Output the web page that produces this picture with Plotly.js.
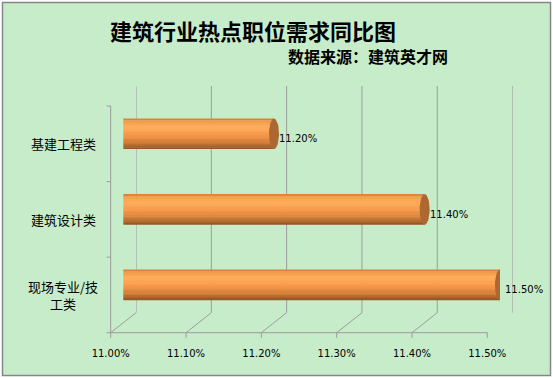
<!DOCTYPE html>
<html>
<head>
<meta charset="utf-8">
<script src="https://cdn.plot.ly/plotly-3.0.1.min.js"></script>
<style>
html,body{margin:0;padding:0;background:#fff;}
#chart{width:553px;height:378px;}
</style>
</head>
<body>
<div id="chart"></div>
<script>
// ---- data ----
const categories = ['基建工程类', '建筑设计类', '现场专业/技工类'];
const categoryLabels = ['基建工程类', '建筑设计类', '现场专业/技<br>工类'];
const values = [11.20, 11.40, 11.50];
const tickValues = [11.00, 11.10, 11.20, 11.30, 11.40, 11.50];
const tickLabels = ['11.00%', '11.10%', '11.20%', '11.30%', '11.40%', '11.50%'];
const axisMin = 11.00, axisMax = 11.50;
const titleText = '建筑行业热点职位需求同比图';
const subtitleText = '数据来源：建筑英才网';

// ---- geometry / style ----
const W = 553, H = 378;
const FL = 110.7, FR = 487.3, FT = 106, FB = 332.7; // front plane (px)
const DX = 25.3, DY = 20;                            // depth offset (px)
const CAP_RX = 5;                                    // cap ellipse half width (px)
const BAR_HALF_PX = 15.3;                            // half bar thickness (px)
const fx = p => p / W;
const fy = p => 1 - p / H;

const nCat = categories.length;
const catIdx = categories.map((c, i) => i);
const pxPerX = (FR - FL) / (axisMax - axisMin);
const pxPerY = (FB - FT) / nCat;
const EX = CAP_RX / pxPerX;
const BH = BAR_HALF_PX / pxPerY;
const xPx = v => FL + (v - axisMin) * pxPerX;
const bandEdgesPx = [FT].concat(catIdx.map(i => FT + (i + 1) * pxPerY));

const gridColor = '#9c9c9c';
const cjk = 'Noto Sans CJK SC';
const gl = () => ({color: gridColor, width: 1});
const noLine = () => ({width: 0, color: 'rgba(0,0,0,0)'});

// cylinder shading (top -> bottom)
const shade = [[0, '#c8772f'], [0.07, '#f09a4c'], [0.28, '#ffad5b'],
               [0.55, '#f79646'], [0.8, '#cf7a35'], [1, '#8a5222']];
const hex2rgb = h => [1, 3, 5].map(k => parseInt(h.substr(k, 2), 16));
function shadeAt(f) {
  for (let k = 1; k < shade.length; k++) {
    if (f <= shade[k][0]) {
      const a = shade[k - 1], b = shade[k];
      const t = (f - a[0]) / (b[0] - a[0]);
      const ca = hex2rgb(a[1]), cb = hex2rgb(b[1]);
      const c = ca.map((q, j) => Math.round(q + (cb[j] - q) * t));
      return 'rgb(' + c.join(',') + ')';
    }
  }
  return shade[shade.length - 1][1];
}

const traces = [];
traces.push({x: [axisMin], y: [0], mode: 'markers', marker: {opacity: 0}, xaxis: 'x', yaxis: 'y', hoverinfo: 'skip', showlegend: false});
traces.push({x: [axisMin], y: [0], mode: 'markers', marker: {opacity: 0}, xaxis: 'x3', yaxis: 'y3', hoverinfo: 'skip', showlegend: false});

const NSTRIPE = 18, NEDGE = 6;
const overlap = 0.4 / pxPerY;
values.forEach((v, i) => {
  const top = i - BH;
  for (let s = 0; s < NSTRIPE; s++) {
    const fa = s / NSTRIPE, fb = (s + 1) / NSTRIPE;
    const ya = top + fa * 2 * BH;
    const yb = Math.min(top + fb * 2 * BH + (s < NSTRIPE - 1 ? overlap : 0), i + BH);
    const sx = [v, v], sy = [ya, yb];
    for (let k = 0; k <= NEDGE; k++) {
      const y = yb + (ya - yb) * k / NEDGE;
      const r = (y - i) / BH;
      sx.push(axisMin - EX * Math.sqrt(Math.max(0, 1 - r * r)));
      sy.push(y);
    }
    traces.push({
      x: sx, y: sy, xaxis: 'x2', yaxis: 'y2', mode: 'lines', fill: 'toself', line: noLine(),
      fillcolor: shadeAt((fa + fb) / 2), hoverinfo: 'skip', showlegend: false
    });
  }
  const cx = [], cy = [];
  const NSEG = 48;
  for (let k = 0; k <= NSEG; k++) {
    const t = 2 * Math.PI * k / NSEG;
    cx.push(v + EX * Math.sin(t));
    cy.push(i + BH * Math.cos(t));
  }
  traces.push({
    x: cx, y: cy, xaxis: 'x2', yaxis: 'y2', mode: 'lines', fill: 'toself', line: noLine(),
    fillcolor: '#ad6731', hoverinfo: 'skip', showlegend: false
  });
});

const shapes = [];
// chart area background & border
shapes.push({type: 'rect', xref: 'paper', yref: 'paper',
  x0: fx(2.5), x1: fx(550.5), y0: fy(375.5), y1: fy(2.5),
  fillcolor: '#c7ecca', line: {color: '#868686', width: 1.5}, layer: 'below'});
tickValues.forEach(v => {
  // back wall gridlines
  shapes.push({type: 'line', xref: 'x3', yref: 'y3 domain', x0: v, x1: v, y0: 0, y1: 1, line: gl(), layer: 'below'});
  // floor diagonals
  shapes.push({type: 'line', xref: 'x', yref: 'y', xsizemode: 'pixel', ysizemode: 'pixel',
    xanchor: v, yanchor: nCat - 0.5, x0: 0, x1: DX, y0: 0, y1: DY, line: gl(), layer: 'below'});
  // x ticks on the front floor edge
  shapes.push({type: 'line', xref: 'paper', yref: 'paper',
    x0: fx(xPx(v)), x1: fx(xPx(v)), y0: fy(FB), y1: fy(FB + 5), line: gl(), layer: 'above'});
});
// left wall top diagonal
shapes.push({type: 'line', xref: 'x', yref: 'y', xsizemode: 'pixel', ysizemode: 'pixel',
  xanchor: axisMin, yanchor: -0.5, x0: 0, x1: DX, y0: 0, y1: DY, line: gl(), layer: 'below'});
// front x axis line and front-left vertical line
shapes.push({type: 'line', xref: 'paper', yref: 'paper', x0: fx(FL), x1: fx(FR), y0: fy(FB), y1: fy(FB), line: gl(), layer: 'above'});
shapes.push({type: 'line', xref: 'paper', yref: 'paper', x0: fx(FL), x1: fx(FL), y0: fy(FT), y1: fy(FB), line: gl(), layer: 'above'});
// y ticks at category boundaries
bandEdgesPx.forEach(p => {
  shapes.push({type: 'line', xref: 'paper', yref: 'paper',
    x0: fx(FL - 4), x1: fx(FL), y0: fy(p), y1: fy(p), line: gl(), layer: 'above'});
});

const annotations = [];
annotations.push({xref: 'paper', yref: 'paper', x: fx(367.5), y: fy(56), xanchor: 'center', yanchor: 'middle',
  text: subtitleText, showarrow: false, font: {family: cjk, size: 16, weight: 700, color: '#000'}});
categoryLabels.forEach((c, i) => {
  annotations.push({xref: 'paper', yref: 'y', x: fx(63), y: i, xanchor: 'center', yanchor: 'middle',
    text: c, showarrow: false, align: 'center', font: {family: cjk, size: 13, color: '#000'}});
});
values.forEach((v, i) => {
  annotations.push({xref: 'x2', yref: 'y2', x: v, y: i, xanchor: 'left', yanchor: 'middle',
    xshift: CAP_RX - 2, yshift: -5, text: v.toFixed(2) + '%', showarrow: false,
    font: {family: 'DejaVu Sans', size: 10, color: '#000'}});
});

const layout = {
  width: W, height: H,
  margin: {l: 0, r: 0, t: 0, b: 0},
  paper_bgcolor: '#ffffff', plot_bgcolor: 'rgba(0,0,0,0)',
  showlegend: false,
  title: {text: titleText, x: fx(253), y: fy(32), xref: 'paper', yref: 'paper',
    xanchor: 'center', yanchor: 'middle', font: {family: cjk, size: 22, weight: 700, color: '#000'}},
  xaxis: {domain: [fx(FL), fx(FR)], anchor: 'y', range: [axisMin, axisMax],
    tickvals: tickValues, ticktext: tickLabels,
    ticks: '', showline: false, showgrid: false, zeroline: false,
    ticklabelstandoff: 13,
    tickfont: {family: 'DejaVu Sans', size: 10, color: '#000'}, fixedrange: true},
  yaxis: {domain: [fy(FB), fy(FT)], anchor: 'x', range: [nCat - 0.5, -0.5],
    showticklabels: false, ticks: '', showline: false, showgrid: false, zeroline: false, fixedrange: true},
  xaxis2: {domain: [fx(FL + DX / 2), fx(FR + DX / 2)], anchor: 'y2', range: [axisMin, axisMax],
    visible: false, fixedrange: true},
  yaxis2: {domain: [fy(FB - DY / 2), fy(FT - DY / 2)], anchor: 'x2', range: [nCat - 0.5, -0.5],
    visible: false, fixedrange: true},
  xaxis3: {domain: [fx(FL + DX), fx(FR + DX)], anchor: 'y3', range: [axisMin, axisMax],
    visible: false, fixedrange: true},
  yaxis3: {domain: [fy(FB - DY), fy(FT - DY)], anchor: 'x3', range: [nCat - 0.5, -0.5],
    visible: false, fixedrange: true},
  shapes: shapes,
  annotations: annotations
};

Plotly.newPlot('chart', traces, layout, {staticPlot: true, displayModeBar: false});
</script>
</body>
</html>
